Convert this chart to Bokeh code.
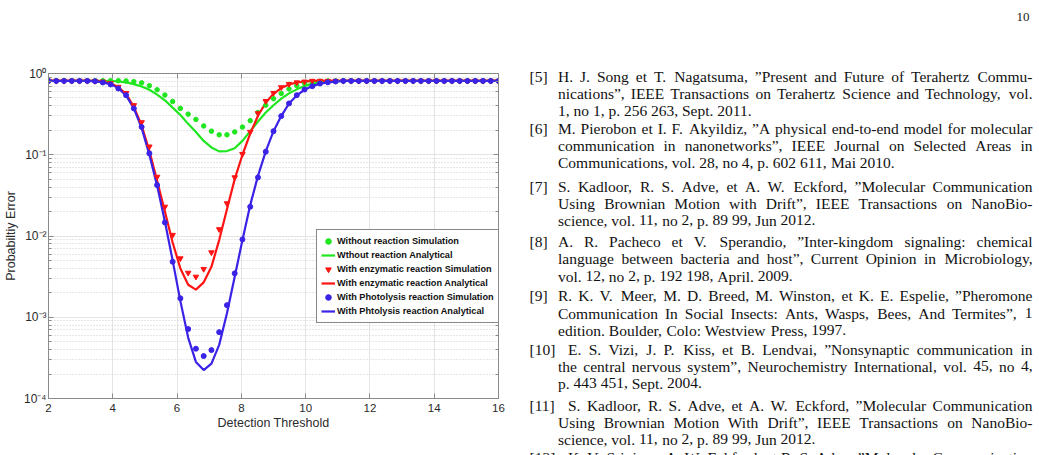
from bokeh.plotting import figure
from bokeh.models import (Range1d, LinearAxis, LogAxis, FixedTicker, Legend, LegendItem,
                          ColumnDataSource, CustomJSTickFormatter)
from bokeh.layouts import row
from bokeh.embed import file_html
from bokeh.resources import INLINE
from bokeh.core.properties import value

# ---------------------------------------------------------------- data
threshold = [2.0, 2.241, 2.483, 2.724, 2.966, 3.207, 3.448, 3.69, 3.931, 4.172,
             4.414, 4.655, 4.897, 5.138, 5.379, 5.621, 5.862, 6.103, 6.345, 6.586,
             6.828, 7.069, 7.31, 7.552, 7.793, 8.034, 8.276, 8.517, 8.759, 9.0,
             9.241, 9.483, 9.724, 9.966, 10.207, 10.448, 10.69, 10.931, 11.172, 11.414,
             11.655, 11.897, 12.138, 12.379, 12.621, 12.862, 13.103, 13.345, 13.586, 13.828,
             14.069, 14.31, 14.552, 14.793, 15.034, 15.276, 15.517, 15.759, 16.0]

x_ticks = [2, 4, 6, 8, 10, 12, 14, 16]

no_reaction_sim = [0.815, 0.815, 0.815, 0.815, 0.815, 0.815, 0.815, 0.815, 0.815, 0.815,
                   0.81, 0.794, 0.767, 0.708, 0.631, 0.543, 0.452, 0.372, 0.316, 0.272,
                   0.226, 0.195, 0.176, 0.176, 0.191, 0.219, 0.263, 0.331, 0.407, 0.49,
                   0.569, 0.646, 0.708, 0.759, 0.785, 0.804, 0.81, 0.81, 0.81, 0.81,
                   0.81, 0.81, 0.81, 0.81, 0.81, 0.81, 0.81, 0.81, 0.81, 0.81,
                   0.81, 0.81, 0.81, 0.81, 0.81, 0.81, 0.81, 0.81, 0.81]

no_reaction_analytic = [0.81, 0.81, 0.81, 0.81, 0.81, 0.81, 0.81, 0.81, 0.809, 0.798,
                        0.776, 0.741, 0.692, 0.631, 0.55, 0.468, 0.38, 0.309, 0.24, 0.191,
                        0.148, 0.123, 0.11, 0.111, 0.12, 0.148, 0.195, 0.257, 0.331, 0.407,
                        0.49, 0.569, 0.638, 0.7, 0.75, 0.776, 0.794, 0.804, 0.81, 0.81,
                        0.81, 0.81, 0.81, 0.81, 0.81, 0.81, 0.81, 0.81, 0.81, 0.81,
                        0.81, 0.81, 0.81, 0.81, 0.81, 0.81, 0.81, 0.81, 0.81]

enzymatic_sim = [0.81, 0.81, 0.81, 0.81, 0.81, 0.81, 0.807, 0.794, 0.759, 0.684,
                 0.575, 0.407, 0.251, 0.126, 0.0535, 0.0229, 0.0103, 0.0053, 0.00352, 0.00315,
                 0.00392, 0.00628, 0.0121, 0.0252, 0.0526, 0.102, 0.191, 0.324, 0.457, 0.575,
                 0.676, 0.741, 0.776, 0.794, 0.81, 0.81, 0.81, 0.81, 0.81, 0.81,
                 0.81, 0.81, 0.81, 0.81, 0.81, 0.81, 0.81, 0.81, 0.81, 0.81,
                 0.81, 0.81, 0.81, 0.81, 0.81, 0.81, 0.81, 0.81, 0.81]

enzymatic_analytic = [0.81, 0.81, 0.81, 0.81, 0.81, 0.81, 0.807, 0.794, 0.759, 0.676,
                      0.562, 0.389, 0.229, 0.112, 0.0479, 0.02, 0.00832, 0.00398, 0.00251, 0.00219,
                      0.00269, 0.00417, 0.00891, 0.0214, 0.0501, 0.1, 0.182, 0.302, 0.437, 0.562,
                      0.661, 0.733, 0.776, 0.794, 0.81, 0.81, 0.81, 0.81, 0.81, 0.81,
                      0.81, 0.81, 0.81, 0.81, 0.81, 0.81, 0.81, 0.81, 0.81, 0.81,
                      0.81, 0.81, 0.81, 0.81, 0.81, 0.81, 0.81, 0.81, 0.81]

photolysis_sim = [0.81, 0.81, 0.81, 0.81, 0.81, 0.81, 0.804, 0.776, 0.733, 0.653,
                  0.541, 0.372, 0.22, 0.104, 0.0423, 0.0147, 0.00482, 0.00171, 0.000716, 0.00041,
                  0.000333, 0.000394, 0.000656, 0.00141, 0.00347, 0.00908, 0.0229, 0.0526, 0.109, 0.195,
                  0.299, 0.428, 0.541, 0.635, 0.698, 0.753, 0.78, 0.798, 0.81, 0.81,
                  0.81, 0.81, 0.81, 0.81, 0.81, 0.81, 0.81, 0.81, 0.81, 0.81,
                  0.81, 0.81, 0.81, 0.81, 0.81, 0.81, 0.81, 0.81, 0.81]

photolysis_analytic = [0.81, 0.81, 0.81, 0.81, 0.81, 0.81, 0.804, 0.776, 0.741, 0.661,
                       0.537, 0.372, 0.214, 0.1, 0.0417, 0.0151, 0.00501, 0.00158, 0.000562, 0.000282,
                       0.000224, 0.000269, 0.000457, 0.00112, 0.00316, 0.00891, 0.024, 0.055, 0.11, 0.195,
                       0.299, 0.427, 0.537, 0.631, 0.7, 0.75, 0.776, 0.794, 0.81, 0.81,
                       0.81, 0.81, 0.81, 0.81, 0.81, 0.81, 0.81, 0.81, 0.81, 0.81,
                       0.81, 0.81, 0.81, 0.81, 0.81, 0.81, 0.81, 0.81, 0.81]

legend_labels = ["Without reaction Simulation", "Wthout reaction Analytical",
                 "With enzymatic reaction Simulation", "With enzymatic reaction Analytical",
                 "With Photolysis reaction Simulation", "With Phtolysis reaction Analytical"]

# bibliography entries: label, lines as set on the page
references = [
    ("[5]", ["H. J. Song et T. Nagatsuma, \u201dPresent and Future of Terahertz Commu-",
             "nications\u201d, IEEE Transactions on Terahertz Science and Technology, vol.",
             "1, no 1, p. 256 263, Sept. 2011."]),
    ("[6]", ["M. Pierobon et I. F. Akyildiz, \u201dA physical end-to-end model for molecular",
             "communication in nanonetworks\u201d, IEEE Journal on Selected Areas in",
             "Communications, vol. 28, no 4, p. 602 611, Mai 2010."]),
    ("[7]", ["S. Kadloor, R. S. Adve, et A. W. Eckford, \u201dMolecular Communication",
             "Using Brownian Motion with Drift\u201d, IEEE Transactions on NanoBio-",
             "science, vol. 11, no 2, p. 89 99, Jun 2012."]),
    ("[8]", ["A. R. Pacheco et V. Sperandio, \u201dInter-kingdom signaling: chemical",
             "language between bacteria and host\u201d, Current Opinion in Microbiology,",
             "vol. 12, no 2, p. 192 198, April. 2009."]),
    ("[9]", ["R. K. V. Meer, M. D. Breed, M. Winston, et K. E. Espelie, \u201dPheromone",
             "Communication In Social Insects: Ants, Wasps, Bees, And Termites\u201d, 1",
             "edition. Boulder, Colo: Westview Press, 1997."]),
    ("[10]", ["E. S. Vizi, J. P. Kiss, et B. Lendvai, \u201dNonsynaptic communication in",
              "the central nervous system\u201d, Neurochemistry International, vol. 45, no 4,",
              "p. 443 451, Sept. 2004."]),
    ("[11]", ["S. Kadloor, R. S. Adve, et A. W. Eckford, \u201dMolecular Communication",
              "Using Brownian Motion With Drift\u201d, IEEE Transactions on NanoBio-",
              "science, vol. 11, no 2, p. 89 99, Jun 2012."]),
    ("[12]", ["K. V. Srinivas, A. W. Eckford, et R. S. Adve, \u201dMolecular Communication"]),
]
wide_label_entries = {"[10]", "[11]", "[12]"}
page_number = "10"

# ---------------------------------------------------------------- chart
GREEN = "#1fe61f"
RED = "#ff1414"
BLUE = "#3a22e6"
AXIS = "#8a8a8a"
INK = "#2b2b2b"

p = figure(width=515, height=455, x_range=Range1d(2, 16), y_range=Range1d(1e-4, 1),
           y_axis_type="log", output_backend="svg", toolbar_location=None,
           min_border_left=43, min_border_right=17, min_border_top=73, min_border_bottom=57,
           background_fill_color="white", border_fill_color="white")
p.outline_line_color = AXIS
p.frame_align = False

sup_js = """
const sup = {"-": "\u207b", "0": "\u2070", "1": "\u00b9", "2": "\u00b2", "3": "\u00b3",
             "4": "\u2074", "5": "\u2075", "6": "\u2076", "7": "\u2077", "8": "\u2078", "9": "\u2079"};
const e = Math.round(Math.log10(tick));
return "10" + String(e).split("").map(c => sup[c]).join("");
"""
blank_js = "return '';"

p.xaxis.ticker = FixedTicker(ticks=x_ticks)
p.yaxis.formatter = CustomJSTickFormatter(code=sup_js)

for ax in (p.xaxis[0], p.yaxis[0]):
    ax.axis_line_color = AXIS
    ax.major_tick_line_color = AXIS
    ax.minor_tick_line_color = AXIS
    ax.major_tick_in = 5
    ax.major_tick_out = 0
    ax.minor_tick_in = 3
    ax.minor_tick_out = 0
    ax.major_label_text_font = "Liberation Sans"
    ax.major_label_text_font_size = "11.5px"
    ax.major_label_text_color = INK
    ax.axis_label_text_font = "Liberation Sans"
    ax.axis_label_text_font_size = "12.5px"
    ax.axis_label_text_font_style = "normal"
    ax.axis_label_text_color = INK

p.yaxis.major_label_text_font_size = "12px"
p.xaxis.minor_tick_line_color = None
p.xaxis.axis_label = "Detection Threshold"
p.xaxis.major_label_standoff = 5
p.xaxis.axis_label_standoff = 1
p.yaxis.axis_label = "Probabiltiy Error"
p.yaxis.major_label_standoff = 2
p.yaxis.axis_label_standoff = 3

top_axis = LinearAxis(ticker=FixedTicker(ticks=x_ticks), formatter=CustomJSTickFormatter(code=blank_js),
                      axis_line_color=AXIS, major_tick_line_color=AXIS, major_tick_in=5,
                      major_tick_out=0, minor_tick_line_color=None, major_label_standoff=0)
right_axis = LogAxis(formatter=CustomJSTickFormatter(code=blank_js),
                     axis_line_color=AXIS, major_tick_line_color=AXIS, minor_tick_line_color=AXIS,
                     major_tick_in=5, major_tick_out=0, minor_tick_in=3, minor_tick_out=0,
                     major_label_standoff=0)
p.add_layout(top_axis, "above")
p.add_layout(right_axis, "right")

p.xgrid.grid_line_color = "#e4e4e4"
p.ygrid.grid_line_color = "#e4e4e4"
p.ygrid.minor_grid_line_color = "#cfcfcf"
p.ygrid.minor_grid_line_dash = "1 2"

src = ColumnDataSource(dict(x=threshold, gs=no_reaction_sim, ga=no_reaction_analytic,
                            rs=enzymatic_sim, ra=enzymatic_analytic,
                            bs=photolysis_sim, ba=photolysis_analytic))

g_line = p.line("x", "ga", source=src, line_color=GREEN, line_width=2.2)
r_line = p.line("x", "ra", source=src, line_color=RED, line_width=2.2)
b_line = p.line("x", "ba", source=src, line_color=BLUE, line_width=2.2)
g_pts = p.scatter("x", "gs", source=src, marker="circle", size=4.5,
                  fill_color=GREEN, line_color=GREEN)
r_pts = p.scatter("x", "rs", source=src, marker="inverted_triangle", size=5.5,
                  fill_color=RED, line_color=RED)
b_pts = p.scatter("x", "bs", source=src, marker="circle", size=5,
                  fill_color=BLUE, line_color=BLUE)

legend = Legend(items=[LegendItem(label=legend_labels[0], renderers=[g_pts]),
                       LegendItem(label=legend_labels[1], renderers=[g_line]),
                       LegendItem(label=legend_labels[2], renderers=[r_pts]),
                       LegendItem(label=legend_labels[3], renderers=[r_line]),
                       LegendItem(label=legend_labels[4], renderers=[b_pts]),
                       LegendItem(label=legend_labels[5], renderers=[b_line])],
                location=(268, 75))
legend.label_text_font = "Liberation Sans"
legend.label_text_font_style = "bold"
legend.label_text_font_size = "9.2px"
legend.label_text_color = "#111111"
legend.glyph_width = 14
legend.glyph_height = 14
legend.label_height = 14
legend.label_standoff = 2
legend.spacing = 0
legend.padding = 4
legend.margin = 0
legend.border_line_color = "#111111"
legend.border_line_width = 1.5
legend.background_fill_color = "white"
legend.background_fill_alpha = 1
p.add_layout(legend)

# ---------------------------------------------------------------- reference column
TIMES = {" ": 250, "!": 333, '"': 408, "'": 333, "(": 333, ")": 333, ",": 250, "-": 333,
         ".": 250, "/": 278, ":": 278, ";": 278, "[": 333, "]": 333,
         "\u201d": 444, "\u201c": 444,
         "A": 722, "B": 667, "C": 667, "D": 722, "E": 611, "F": 556, "G": 722, "H": 722,
         "I": 333, "J": 389, "K": 722, "L": 611, "M": 889, "N": 722, "O": 722, "P": 556,
         "Q": 722, "R": 667, "S": 556, "T": 611, "U": 722, "V": 722, "W": 944, "X": 722,
         "Y": 722, "Z": 611,
         "a": 444, "b": 500, "c": 444, "d": 500, "e": 444, "f": 333, "g": 500, "h": 500,
         "i": 278, "j": 278, "k": 500, "l": 278, "m": 778, "n": 500, "o": 500, "p": 500,
         "q": 500, "r": 333, "s": 389, "t": 278, "u": 500, "v": 500, "w": 722, "x": 500,
         "y": 500, "z": 444}

FONT_PX = 15.5
TEXT_LEFT = 557.5
TEXT_RIGHT = 1032.0
LABEL_LEFT = 529.0
WIDE_INDENT = 10.0

baselines = [[75.5, 92.5, 110], [127.5, 144.5, 162], [185.5, 202.5, 219.5], [241, 258, 275.5],
             [295, 312.5, 329.5], [348.5, 365.5, 382.5], [404.5, 421.5, 438.5], [456.5]]


def word_width(word):
    return sum(TIMES.get(ch, 500) for ch in word) * FONT_PX / 1000.0


wx, wy, wt, wa = [], [], [], []
for (label, lines), ys in zip(references, baselines):
    wx.append(LABEL_LEFT); wy.append(ys[0]); wt.append(label); wa.append("left")
    for i, (line, y) in enumerate(zip(lines, ys)):
        x0 = TEXT_LEFT + (WIDE_INDENT if (i == 0 and label in wide_label_entries) else 0.0)
        words = line.split(" ")
        widths = [word_width(w) for w in words]
        justify = (i < len(lines) - 1) or label == "[12]"
        if justify and len(words) > 1:
            gap = (TEXT_RIGHT - x0 - sum(widths)) / (len(words) - 1)
        else:
            gap = 0.25 * FONT_PX
        x = x0
        for j, (w, wd) in enumerate(zip(words, widths)):
            if justify and j == len(words) - 1:
                wx.append(TEXT_RIGHT); wa.append("right")
            else:
                wx.append(x); wa.append("left")
            wy.append(y); wt.append(w)
            x += wd + gap

q = figure(width=524, height=455, x_range=Range1d(515, 1039), y_range=Range1d(455, 0),
           output_backend="svg", toolbar_location=None, min_border=0,
           x_axis_location=None, y_axis_location=None,
           background_fill_color="white", border_fill_color="white")
q.outline_line_color = None
q.grid.visible = False
q.frame_align = False

q.text(x="x", y="y", text="t", text_align="a",
       source=ColumnDataSource(dict(x=wx, y=wy, t=wt, a=wa)),
       text_baseline="alphabetic", text_font=value("Liberation Serif"),
       text_font_size=value(f"{FONT_PX}px"), text_color="#111111")

q.text(x=[1029], y=[16], text=[page_number], text_align="right",
       text_baseline="alphabetic", text_font=value("Liberation Serif"),
       text_font_size=value("13px"), text_color="#222222")

layout = row(p, q, spacing=0)
open("out.html", "w").write(file_html(layout, INLINE))
